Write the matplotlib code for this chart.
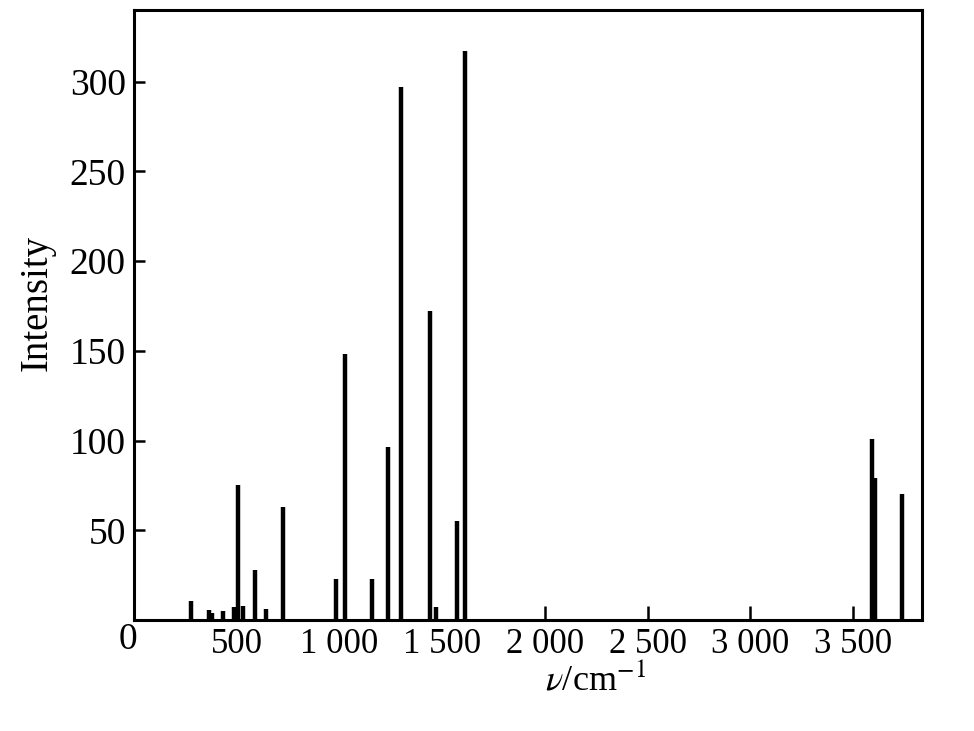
import matplotlib.pyplot as plt

plt.rcParams["font.family"] = ["Liberation Serif", "DejaVu Serif"]
plt.rcParams["mathtext.fontset"] = "stix"

# peak positions (cm^-1) and intensities
wavenumbers = [278, 366, 380, 434, 488, 507, 531, 590, 644, 726,
               985, 1029, 1160, 1234, 1302, 1443, 1468, 1570, 1609,
               3593, 3608, 3740]
intensities = [10.5, 5.5, 4, 5, 7, 75, 8, 28, 6, 63,
               23, 148, 23, 96.5, 297, 172, 7, 55, 317,
               101, 79, 70]

xticks = [500, 1000, 1500, 2000, 2500, 3000, 3500]
xticklabels = ["500", "1 000", "1 500", "2 000", "2 500", "3 000", "3 500"]
yticks = [50, 100, 150, 200, 250, 300]

fig = plt.figure(figsize=(9.74, 7.31), dpi=100)
ax = fig.add_axes([0.1376, 0.1518, 0.809, 0.8345])

ax.vlines(wavenumbers, 0, intensities, colors="black", linewidth=3.2)

ax.set_xlim(0, 3836)
ax.set_ylim(0, 340)

ax.set_xticks(xticks)
ax.set_xticklabels(xticklabels)
ax.set_yticks(yticks)

ax.tick_params(direction="in", width=1.8)
ax.tick_params(axis="x", length=10, labelsize=25, pad=6)
ax.tick_params(axis="y", length=8, labelsize=27, pad=6)
# the first three x ticks are hidden behind the peaks in the original
for t in ax.xaxis.get_major_ticks()[:3]:
    t.tick1line.set_visible(False)
for s in ax.spines.values():
    s.set_linewidth(2.2)

# shared zero at the corner
ax.text(-0.008, -0.004, "0", transform=ax.transAxes, fontsize=27,
        ha="center", va="top")

ax.set_xlabel(r"$\nu$/cm$^{-1}$", fontsize=26)
ax.xaxis.set_label_coords(0.585, -0.07)
ax.set_ylabel("Intensity", fontsize=28)
ax.yaxis.set_label_coords(-0.1, 0.52)

fig.savefig("out.png", dpi=100)
